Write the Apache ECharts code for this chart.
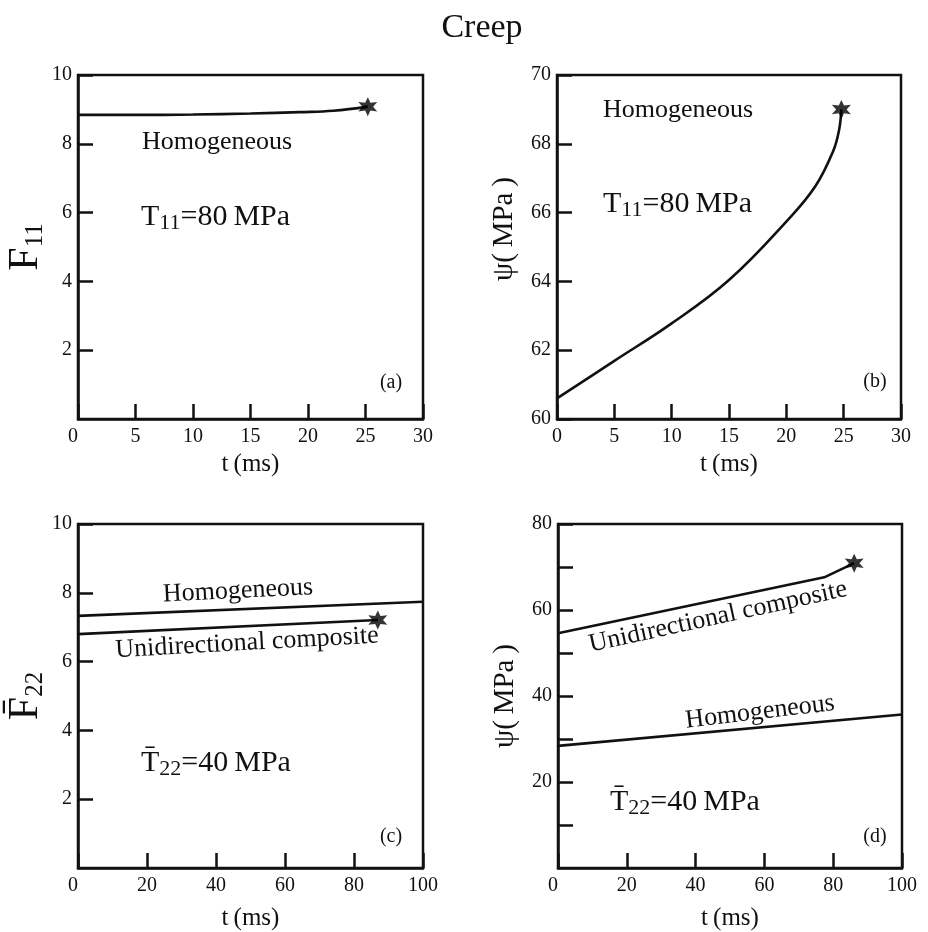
<!DOCTYPE html>
<html><head><meta charset="utf-8">
<script src="https://cdn.jsdelivr.net/npm/echarts@6/dist/echarts.min.js"></script>
<style>html,body{margin:0;padding:0;background:#fff}#c{width:928px;height:932px}</style>
</head><body><div id="c"></div>
<script>
// ---- data ----
const tA   = [0, 5, 10, 15, 19.3, 22.2, 25.2];
const F11  = [8.84, 8.84, 8.85, 8.88, 8.92, 8.96, 9.08];

const tB   = [0, 5, 10, 15, 20, 22.5, 24.1, 24.6, 24.8];
const psiB = [60.6, 61.69, 62.78, 64.04, 65.74, 66.75, 67.8, 68.4, 69.0];

const tC_hom  = [0, 100];
const F22_hom = [7.33, 7.74];
const tC_uni  = [0, 86.9];
const F22_uni = [6.80, 7.21];

const tD_uni  = [0, 77.4, 86.1];
const psiD_uni = [54.6, 67.6, 70.9];
const tD_hom  = [0, 100];
const psiD_hom = [28.4, 35.7];

const xTopRange = [0, 30, 5];
const xBotRange = [0, 100, 20];
const yARange = [0, 10, 2];
const yBRange = [60, 70, 2];
const yCRange = [0, 10, 2];
const yDRange = [0, 80, 10];

// ---- helpers ----
const SERIF = "'Liberation Serif','Times New Roman',serif";
const INK = '#111111';
const pairs = (xs, ys) => xs.map((x, i) => [x, ys[i]]);
const last = (xs, ys) => [[xs[xs.length - 1], ys[ys.length - 1]]];

function starPath() {
  let d = '';
  for (let k = 0; k < 12; k++) {
    const r = k % 2 === 0 ? 10 : 4.8;
    const a = (-90 + k * 30) * Math.PI / 180;
    const x = (10 + r * Math.cos(a)).toFixed(2), y = (10 + r * Math.sin(a)).toFixed(2);
    d += (k === 0 ? 'M' : 'L') + x + ' ' + y + ' ';
  }
  return 'path://' + d + 'Z';
}
const STAR = starPath();

const grids = [
  { left: 78,  top: 75,  width: 345, height: 344 },
  { left: 557, top: 75,  width: 344, height: 344 },
  { left: 78,  top: 524, width: 345, height: 344 },
  { left: 558, top: 524, width: 344, height: 344 }
].map(g => Object.assign(g, { show: true, borderColor: INK, borderWidth: 2.5, backgroundColor: 'transparent' }));

const tickStyle = { show: true, inside: true, length: 15, lineStyle: { color: INK, width: 2.5 } };
const lblStyle = { color: INK, fontFamily: SERIF, fontSize: 20 };

function xAxis(gi, r, gap, minAlign) {
  return {
    type: 'value', gridIndex: gi, min: r[0], max: r[1], interval: r[2],
    name: 't\u2009(ms)', nameLocation: 'middle', nameGap: gap,
    nameTextStyle: { color: INK, fontFamily: SERIF, fontSize: 25 },
    axisLine: { show: true, onZero: false, lineStyle: { color: INK, width: 2.5 } },
    axisTick: tickStyle, splitLine: { show: false },
    axisLabel: Object.assign({ margin: 8, showMinLabel: true, showMaxLabel: true, alignMinLabel: minAlign || 'center' }, lblStyle)
  };
}
function yAxis(gi, r, name, rich, gap, showMin, fmt, pad) {
  return {
    type: 'value', gridIndex: gi, min: r[0], max: r[1], interval: r[2],
    name: name, nameLocation: 'middle', nameGap: gap,
    nameTextStyle: { color: INK, fontFamily: SERIF, fontSize: 30, rich: rich, padding: pad || 0 },
    axisLine: { show: true, onZero: false, lineStyle: { color: INK, width: 2.5 } },
    axisTick: tickStyle, splitLine: { show: false },
    axisLabel: Object.assign({ margin: 6, showMinLabel: showMin, showMaxLabel: true, formatter: fmt || (v => String(v)) }, lblStyle)
  };
}
const richF = {
  m: { fontFamily: SERIF, fontSize: 42, color: INK, lineHeight: 44, verticalAlign: 'middle' },
  s: { fontFamily: SERIF, fontSize: 25, color: INK, lineHeight: 24, verticalAlign: 'bottom' }
};
const richPsi = { m: { fontFamily: SERIF, fontSize: 29, color: INK } };

function lineSeries(xi, data, smooth) {
  return { type: 'line', xAxisIndex: xi, yAxisIndex: xi, data: data, smooth: smooth || false,
    showSymbol: false, symbol: 'none', lineStyle: { color: INK, width: 2.6 }, z: 3, silent: true };
}
function starSeries(xi, data) {
  return { type: 'scatter', xAxisIndex: xi, yAxisIndex: xi, data: data, symbol: STAR, symbolSize: 19,
    itemStyle: { color: '#000' }, z: 4, silent: true };
}

// ---- annotation texts ----
const richAnn = {
  m: { fontFamily: SERIF, fontSize: 30, color: INK, lineHeight: 34, verticalAlign: 'middle' },
  s: { fontFamily: SERIF, fontSize: 22, color: INK, lineHeight: 18, verticalAlign: 'bottom' }
};
function txt(x, y, text, size, rotDeg, align) {
  return { type: 'text', x: x, y: y, rotation: (rotDeg || 0) * Math.PI / 180, z: 10,
    style: { text: text, fontFamily: SERIF, fontSize: size, fill: INK, align: align || 'center', verticalAlign: 'middle' } };
}
function richTxt(x, y, text) {
  return { type: 'text', x: x, y: y, z: 10,
    style: { text: text, fontFamily: SERIF, fontSize: 30, fill: INK, align: 'left', verticalAlign: 'middle', rich: richAnn } };
}

const graphics = [
  txt(482, 28, 'Creep', 34),
  // (a)
  txt(142, 142, 'Homogeneous', 26, 0, 'left'),
  richTxt(141, 217, '{m|T}{s|11}{m|=80\u2009MPa}'),
  txt(391, 383, '(a)', 20),
  // (b)
  txt(603, 110, 'Homogeneous', 26, 0, 'left'),
  richTxt(603, 204, '{m|T}{s|11}{m|=80\u2009MPa}'),
  txt(875, 382, '(b)', 20),
  // (c)
  txt(238, 591, 'Homogeneous', 26, 2.8),
  txt(247, 643, 'Unidirectional composite', 26, 3.2),
  richTxt(141, 763, '{m|T\u0304}{s|22}{m|=40\u2009MPa}'),
  txt(391, 837, '(c)', 20),
  // (d)
  txt(718, 617, 'Unidirectional composite', 26, 12.3),
  txt(760, 712, 'Homogeneous', 26, 6.8),
  richTxt(610, 802, '{m|T\u0304}{s|22}{m|=40\u2009MPa}'),
  txt(875, 837, '(d)', 20)
];

const option = {
  backgroundColor: '#fff',
  animation: false,
  grid: grids,
  xAxis: [
    xAxis(0, xTopRange, 33, 'right'),
    xAxis(1, xTopRange, 33),
    xAxis(2, xBotRange, 38, 'right'),
    xAxis(3, xBotRange, 38, 'right')
  ],
  yAxis: [
    yAxis(0, yARange, '{m|F}{s|11}', richF, 17, false),
    yAxis(1, yBRange, '{m|\u03C8(\u2009MPa\u2009)}', richPsi, 38, true, null, [0, 0, 0, 36]),
    yAxis(2, yCRange, '{m|F\u0304}{s|22}', richF, 17, false),
    yAxis(3, yDRange, '{m|\u03C8(\u2009MPa\u2009)}', richPsi, 38, false, v => (v % 20 === 0 ? String(v) : ''))
  ],
  series: [
    lineSeries(0, pairs(tA, F11), 0.4),
    starSeries(0, last(tA, F11)),
    lineSeries(1, pairs(tB, psiB), 0.4),
    starSeries(1, last(tB, psiB)),
    lineSeries(2, pairs(tC_hom, F22_hom)),
    lineSeries(2, pairs(tC_uni, F22_uni)),
    starSeries(2, last(tC_uni, F22_uni)),
    lineSeries(3, pairs(tD_uni, psiD_uni)),
    starSeries(3, last(tD_uni, psiD_uni)),
    lineSeries(3, pairs(tD_hom, psiD_hom))
  ],
  graphic: graphics
};

const chart = echarts.init(document.getElementById('c'), null, { renderer: 'canvas' });
chart.setOption(option);
</script>
</body></html>
